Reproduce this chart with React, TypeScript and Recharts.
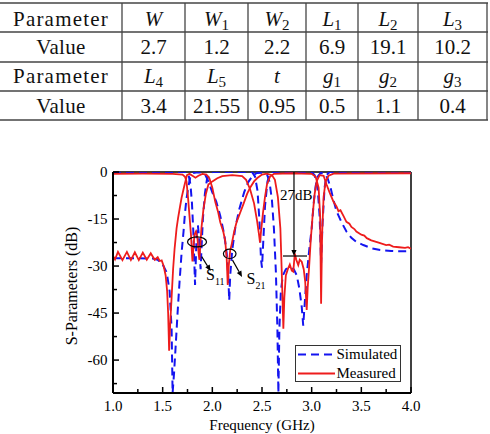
import React from 'react';
import { LineChart, Line, XAxis, YAxis, ReferenceLine, ReferenceDot, Legend } from 'recharts';

// ---- table contents ----
const rowLabels = ['Parameter', 'Value', 'Parameter', 'Value'];
const params1 = ['W', 'W_1', 'W_2', 'L_1', 'L_2', 'L_3'];
const values1 = ['2.7', '1.2', '2.2', '6.9', '19.1', '10.2'];
const params2 = ['L_4', 'L_5', 't', 'g_1', 'g_2', 'g_3'];
const values2 = ['3.4', '21.55', '0.95', '0.5', '1.1', '0.4'];

// ---- chart data: [frequency GHz, dB] ----
const simS11: [number, number][] = [
  [1.0, 0], [1.74, 0], [1.76, -0.8], [1.78, -4], [1.795, -10], [1.81, -20], [1.82, -30], [1.826, -36],
  [1.832, -30], [1.842, -20], [1.855, -17], [1.866, -21], [1.876, -28], [1.882, -31], [1.89, -25],
  [1.905, -15], [1.925, -7], [1.945, -2.5], [1.97, -0.6], [2.0, 0], [2.4, 0], [2.43, -1.5], [2.455, -6],
  [2.475, -16], [2.49, -28], [2.5, -30.5], [2.51, -24], [2.53, -11], [2.555, -3], [2.58, -0.6], [2.6, 0],
  [3.0, 0], [3.03, -1], [3.06, -5], [3.08, -14], [3.095, -29], [3.11, -16], [3.13, -5], [3.15, -1],
  [3.18, 0], [4.0, 0],
];

const simS21: [number, number][] = [
  [1.0, -27.5], [1.2, -27.5], [1.4, -27.6], [1.45, -28], [1.5, -29.5], [1.54, -32], [1.57, -38],
  [1.59, -50], [1.6, -70.5], [1.615, -64], [1.63, -56], [1.65, -45], [1.67, -35], [1.69, -26],
  [1.71, -19], [1.725, -13], [1.74, -8.5], [1.76, -4.5], [1.775, -2], [1.79, -0.8], [1.81, -0.3],
  [1.85, -0.1], [1.9, -0.2], [1.93, -1], [1.96, -3], [2.0, -6.5], [2.04, -9.5], [2.08, -14],
  [2.12, -20], [2.145, -26], [2.16, -33], [2.17, -41], [2.18, -33], [2.2, -25], [2.23, -18],
  [2.27, -12], [2.32, -6.5], [2.36, -3.3], [2.41, -1], [2.45, -0.3], [2.52, -0.2], [2.55, -0.8],
  [2.575, -3], [2.6, -9], [2.62, -18], [2.64, -32], [2.655, -50], [2.665, -70.5], [2.675, -50],
  [2.69, -38], [2.71, -33], [2.74, -31], [2.78, -30.5], [2.82, -31], [2.85, -33], [2.875, -37],
  [2.9, -43], [2.915, -49], [2.93, -42], [2.95, -33], [2.975, -25], [3.0, -18], [3.02, -10],
  [3.04, -4.5], [3.06, -1.5], [3.09, -0.3], [3.13, -0.5], [3.16, -2], [3.19, -5], [3.22, -9],
  [3.25, -12.5], [3.3, -16], [3.35, -19], [3.4, -21], [3.45, -22.3], [3.52, -23.3], [3.6, -24.3],
  [3.69, -24.9], [3.8, -25.2], [3.92, -25.3], [4.0, -25.2],
];

const measS11: [number, number][] = [
  [1.0, -0.6], [1.3, -0.5], [1.6, -0.6], [1.7, -0.8], [1.725, -1.5], [1.74, -3], [1.755, -8],
  [1.77, -14], [1.785, -20], [1.795, -26], [1.8, -28.5], [1.81, -24], [1.82, -20], [1.835, -19],
  [1.85, -21], [1.862, -26], [1.87, -28], [1.878, -24], [1.89, -18], [1.91, -12], [1.935, -7],
  [1.96, -4], [2.0, -3], [2.05, -2], [2.1, -1.3], [2.2, -1], [2.3, -1.3], [2.34, -2.5], [2.38, -5.5],
  [2.42, -10], [2.45, -15.5], [2.47, -20], [2.48, -22.5], [2.49, -19], [2.51, -13], [2.53, -8],
  [2.55, -4], [2.58, -1.5], [2.62, -0.6], [2.8, -0.4], [3.0, -0.6], [3.04, -1.5], [3.07, -5],
  [3.085, -14], [3.095, -42], [3.105, -20], [3.12, -8], [3.14, -3], [3.17, -1.2], [3.22, -0.5],
  [4.0, -0.4],
];

const measS21: [number, number][] = [
  [1.0, -26.8], [1.02, -27.9], [1.05, -25.5], [1.095, -28.1], [1.14, -25.5], [1.18, -28.1],
  [1.22, -25.6], [1.26, -28.1], [1.3, -25.7], [1.34, -28], [1.38, -25.9], [1.42, -28], [1.45, -27.2],
  [1.47, -28.4], [1.49, -28.2], [1.51, -30], [1.53, -33], [1.545, -38], [1.555, -45], [1.565, -57],
  [1.575, -49], [1.59, -40], [1.605, -31], [1.62, -24.5], [1.64, -18], [1.655, -14.7], [1.675, -11],
  [1.69, -8.3], [1.71, -5.5], [1.725, -3.5], [1.745, -1], [1.77, -0.6], [1.8, -1.2], [1.83, -1.8],
  [1.86, -1.2], [1.9, -0.6], [1.94, -0.8], [1.97, -2], [2.0, -5], [2.03, -9.6], [2.06, -13],
  [2.08, -16], [2.11, -19], [2.13, -22], [2.145, -28], [2.155, -36], [2.165, -30], [2.18, -25],
  [2.195, -23], [2.22, -19], [2.245, -15.9], [2.28, -13], [2.31, -10.5], [2.35, -7], [2.38, -5],
  [2.42, -3], [2.45, -2], [2.5, -0.8], [2.55, -0.5], [2.6, -1], [2.63, -2.5], [2.66, -8],
  [2.685, -18], [2.7, -33], [2.715, -50], [2.725, -40], [2.74, -33], [2.76, -31], [2.78, -29.5],
  [2.8, -31.5], [2.815, -31.8], [2.83, -26], [2.845, -28], [2.865, -29.7], [2.88, -28], [2.9, -28.6],
  [2.92, -31], [2.935, -35], [2.95, -44], [2.96, -37], [2.975, -30], [2.99, -22], [3.01, -13.7],
  [3.03, -7], [3.05, -3], [3.08, -1], [3.12, -1.2], [3.15, -4], [3.18, -6.5], [3.2, -8], [3.22, -9.5],
  [3.25, -11], [3.27, -12.5], [3.29, -12.2], [3.32, -14], [3.35, -15.9], [3.38, -16.5], [3.4, -17.5],
  [3.43, -18.2], [3.45, -19], [3.5, -20], [3.53, -20.3], [3.555, -21.1], [3.6, -21.8], [3.65, -22.3],
  [3.69, -22.7], [3.75, -23.3], [3.78, -23.2], [3.82, -23.8], [3.88, -24], [3.94, -24.2],
  [3.97, -24], [4.0, -24.5],
];

const xTicks = [1, 1.25, 1.5, 1.75, 2, 2.25, 2.5, 2.75, 3, 3.25, 3.5, 3.75, 4];
const yTicks = [0, -7.5, -15, -22.5, -30, -37.5, -45, -52.5, -60, -67.5];

const toPoints = (pairs: [number, number][]) => pairs.map(([f, v]) => ({ f, v }));

const SERIF = 'Liberation Serif, DejaVu Serif, serif';
const BLUE = '#1414f0';
const RED = '#ee1c1c';

// plot box in pixels
const PLOT_LEFT = 113;
const PLOT_BOTTOM = 393;

const colEdges = [0, 122, 185, 248, 306, 358, 418, 487];
const rowEdges = [3, 32, 62, 91, 120];
const baselines = [26, 54, 83, 113];

const txt = { fontFamily: SERIF };

function MathCell({ x, y, s }: { x: number; y: number; s: string }) {
  const [base, sub] = s.split('_');
  return (
    <text x={x} y={y} textAnchor="middle" style={txt} fontSize={21} fill="#111">
      <tspan fontStyle="italic">{base}</tspan>
      {sub ? <tspan fontSize={15} dy={4}>{sub}</tspan> : null}
    </text>
  );
}

function ParamTable() {
  const rows = [params1, values1, params2, values2];
  return (
    <svg width={490} height={125} style={{ position: 'absolute', left: 0, top: 0 }}>
      {rowEdges.map((y, i) => (
        <line key={'h' + i} x1={0} x2={488} y1={y} y2={y} stroke="#444" strokeWidth={i === 0 || i === 4 ? 1.6 : 1.3} />
      ))}
      {colEdges.slice(1).map((x, i) => (
        <line key={'v' + i} x1={x} x2={x} y1={rowEdges[0]} y2={rowEdges[4]} stroke="#444" strokeWidth={1.3} />
      ))}
      {rowLabels.map((lab, r) => (
        <text key={'l' + r} x={61} y={baselines[r]} textAnchor="middle" style={txt} fontSize={21}
          letterSpacing={lab === 'Parameter' ? 1.2 : 0.3} fill="#111">{lab}</text>
      ))}
      {rows.map((cells, r) =>
        cells.map((c, i) => {
          const cx = (colEdges[i + 1] + colEdges[i + 2]) / 2;
          return r % 2 === 0 ? (
            <MathCell key={r + '-' + i} x={cx} y={baselines[r]} s={c} />
          ) : (
            <text key={r + '-' + i} x={cx} y={baselines[r]} textAnchor="middle" style={txt} fontSize={21} fill="#111">{c}</text>
          );
        })
      )}
    </svg>
  );
}

function XTick(props: any) {
  const { x, payload } = props;
  const v = payload.value as number;
  const major = Number.isInteger(v * 2);
  return (
    <g>
      <line x1={x} x2={x} y1={PLOT_BOTTOM} y2={PLOT_BOTTOM - (major ? 6 : 4)} stroke="#000" strokeWidth={1.5} />
      {major && (
        <text x={x} y={411} textAnchor="middle" style={txt} fontSize={15} fill="#000">{v.toFixed(1)}</text>
      )}
    </g>
  );
}

function YTick(props: any) {
  const { y, payload } = props;
  const v = payload.value as number;
  const major = Number.isInteger(v / 15);
  return (
    <g>
      <line x1={PLOT_LEFT} x2={PLOT_LEFT + (major ? 6 : 4)} y1={y} y2={y} stroke="#000" strokeWidth={1.5} />
      {major && (
        <text x={107.5} y={y + 5} textAnchor="end" style={txt} fontSize={15} fill="#000">{v === 0 ? '0' : String(v)}</text>
      )}
    </g>
  );
}

function Arrow(props: any) {
  const { x1, y1, x2, y2 } = props;
  const ang = Math.atan2(y2 - y1, x2 - x1);
  const len = 6, half = 2.6;
  const bx = x2 - len * Math.cos(ang), by = y2 - len * Math.sin(ang);
  const px = -Math.sin(ang) * half, py = Math.cos(ang) * half;
  return (
    <g>
      <line x1={x1} y1={y1} x2={bx} y2={by} stroke="#000" strokeWidth={1.2} />
      <polygon points={`${x2},${y2} ${bx + px},${by + py} ${bx - px},${by - py}`} fill="#000" />
    </g>
  );
}

const ellipseShape = (rx: number, ry: number) => (p: any) => (
  <ellipse cx={p.cx} cy={p.cy} rx={rx} ry={ry} fill="none" stroke="#000" strokeWidth={1.2} />
);

const subLabel = (sub: string) => (p: any) => (
  <text x={p.cx} y={p.cy} style={txt} fontSize={16} fill="#000">
    S<tspan fontSize={10} dy={5}>{sub}</tspan>
  </text>
);

const textShape = (label: string) => (p: any) => (
  <text x={p.cx} y={p.cy} style={txt} fontSize={15} fill="#000">{label}</text>
);

function LegendBox() {
  return (
    <svg width={107} height={38}>
      <rect x={0.5} y={0.5} width={105} height={36} fill="#fff" stroke="#333" strokeWidth={1} />
      <line x1={3} x2={40} y1={9.5} y2={9.5} stroke={BLUE} strokeWidth={2} strokeDasharray="8 5" />
      <text x={41.5} y={13.5} style={txt} fontSize={15} fill="#000">Simulated</text>
      <line x1={3} x2={40} y1={28.5} y2={28.5} stroke={RED} strokeWidth={2} />
      <text x={41.5} y={32.5} style={txt} fontSize={15} fill="#000">Measured</text>
    </svg>
  );
}

export default function App() {
  return (
    <div style={{ position: 'absolute', left: 0, top: 0, width: 490, height: 434, background: '#fff', overflow: 'hidden', fontFamily: SERIF }}>
      <ParamTable />
      <div style={{ position: 'absolute', left: 0, top: 0 }}>
        <LineChart width={490} height={434} margin={{ top: 172, right: 79, bottom: 11, left: 73 }}>
          <XAxis
            type="number"
            dataKey="f"
            domain={[1, 4]}
            ticks={xTicks}
            interval={0}
            height={30}
            tickLine={false}
            axisLine={{ stroke: '#000', strokeWidth: 2 }}
            tick={<XTick />}
            allowDataOverflow
            label={{
              content: () => (
                <text x={262} y={430} textAnchor="middle" style={txt} fontSize={15} fill="#000">Frequency (GHz)</text>
              ),
            }}
          />
          <YAxis
            type="number"
            domain={[-70.5, 0]}
            ticks={yTicks}
            interval={0}
            width={40}
            tickLine={false}
            axisLine={{ stroke: '#000', strokeWidth: 2 }}
            tick={<YTick />}
            allowDataOverflow
            label={{
              content: () => (
                <text x={77} y={286} textAnchor="middle" transform="rotate(-90, 77, 286)" style={txt} fontSize={16} fill="#000">
                  S-Parameters (dB)
                </text>
              ),
            }}
          />
          <ReferenceLine y={0} stroke="#000" strokeWidth={1.5} />
          <ReferenceLine x={4} stroke="#000" strokeWidth={1.5} />
          <Legend verticalAlign="middle" align="center" layout="horizontal" content={<LegendBox />}
            wrapperStyle={{ position: 'absolute', left: 295, top: 345, width: 107, height: 38 }} />
          <Line data={toPoints(simS11)} dataKey="v" type="linear" stroke={BLUE} strokeWidth={2} strokeDasharray="8 5" dot={false} isAnimationActive={false} name="Simulated" />
          <Line data={toPoints(simS21)} dataKey="v" type="linear" stroke={BLUE} strokeWidth={2} strokeDasharray="8 5" dot={false} isAnimationActive={false} legendType="none" />
          <Line data={toPoints(measS11)} dataKey="v" type="linear" stroke={RED} strokeWidth={1.8} dot={false} isAnimationActive={false} name="Measured" />
          <Line data={toPoints(measS21)} dataKey="v" type="linear" stroke={RED} strokeWidth={1.8} dot={false} isAnimationActive={false} legendType="none" />
          <ReferenceDot x={1.846} y={-22.3} r={1} shape={ellipseShape(9.5, 5)} />
          <ReferenceDot x={2.175} y={-26.1} r={1} shape={ellipseShape(6.3, 4.7)} />
          <ReferenceLine segment={[{ x: 1.893, y: -27.0 }, { x: 1.983, y: -31.6 }]} shape={Arrow} />
          <ReferenceLine segment={[{ x: 2.203, y: -28.1 }, { x: 2.299, y: -33.5 }]} shape={Arrow} />
          <ReferenceDot x={1.936} y={-34.5} r={1} shape={subLabel('11')} />
          <ReferenceDot x={2.344} y={-35.6} r={1} shape={subLabel('21')} />
          <ReferenceLine segment={[{ x: 2.822, y: 0 }, { x: 2.822, y: -26.8 }]} shape={Arrow} />
          <ReferenceLine segment={[{ x: 2.711, y: -26.8 }, { x: 2.953, y: -26.8 }]} stroke="#000" strokeWidth={1.2} />
          <ReferenceDot x={2.681} y={-8.9} r={1} shape={textShape('27dB')} />
        </LineChart>
      </div>
    </div>
  );
}
